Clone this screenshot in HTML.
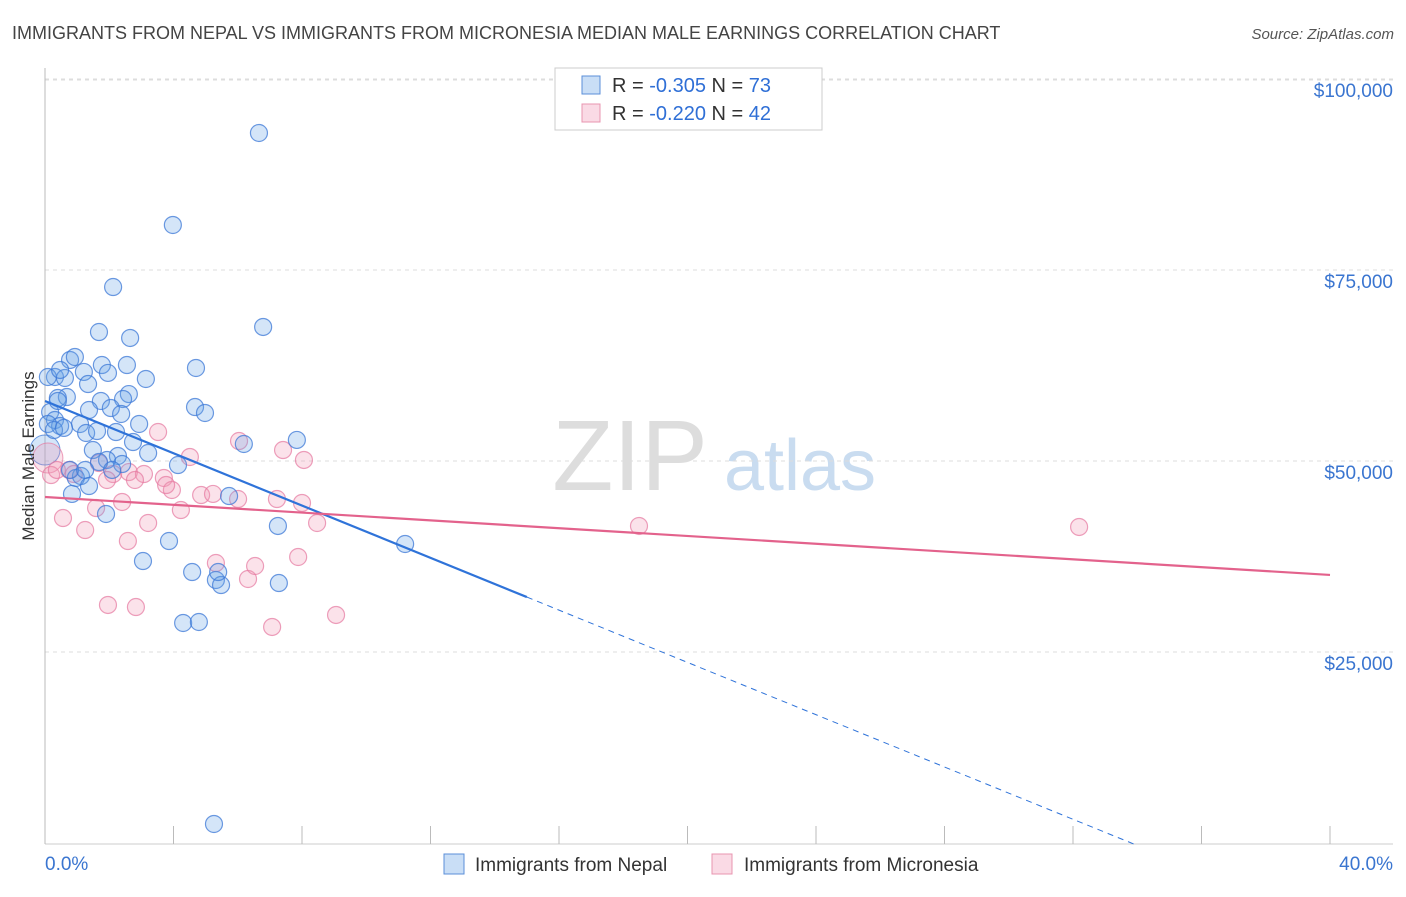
<!DOCTYPE html>
<html><head><meta charset="utf-8"><style>
body{margin:0;background:#fff;font-family:"Liberation Sans",sans-serif;}
svg text{font-family:"Liberation Sans",sans-serif;}
</style></head><body>
<svg id="chart" width="1406" height="892" viewBox="0 0 1406 892" xmlns="http://www.w3.org/2000/svg">
<text x="12" y="39" font-size="18" fill="#444">IMMIGRANTS FROM NEPAL VS IMMIGRANTS FROM MICRONESIA MEDIAN MALE EARNINGS CORRELATION CHART</text>
<text x="1394" y="39" font-size="15" fill="#555" text-anchor="end" font-style="italic">Source: ZipAtlas.com</text>
<g>
<text x="630" y="490" font-size="100" font-family="Liberation Serif,serif" fill="#ddd" text-anchor="middle">ZIP</text>
<text x="800" y="490" font-size="72" fill="#c9dcf0" text-anchor="middle">atlas</text>
</g>
<g id="grid"></g>
<g id="axes"></g>
<g id="marks"></g>
<text transform="translate(34,456) rotate(-90)" font-size="17" fill="#333" text-anchor="middle">Median Male Earnings</text>
<g>
<rect x="555" y="68" width="267" height="62" fill="#fff" stroke="#ccc"/>
<rect x="582" y="76" width="18" height="18" fill="rgba(100,160,230,0.35)" stroke="#5b8fd8"/>
<text x="612" y="92" font-size="20" fill="#333">R = <tspan fill="#2f6fd6">-0.305</tspan>   N = <tspan fill="#2f6fd6">73</tspan></text>
<rect x="582" y="104" width="18" height="18" fill="rgba(240,150,180,0.35)" stroke="#e895b0"/>
<text x="612" y="120" font-size="20" fill="#333">R = <tspan fill="#2f6fd6">-0.220</tspan>   N = <tspan fill="#2f6fd6">42</tspan></text>
</g>
<g>
<rect x="444" y="854" width="20" height="20" fill="rgba(100,160,230,0.35)" stroke="#5b8fd8"/>
<text x="475" y="871" font-size="19" fill="#333">Immigrants from Nepal</text>
<rect x="712" y="854" width="20" height="20" fill="rgba(240,150,180,0.35)" stroke="#e895b0"/>
<text x="744" y="871" font-size="19" fill="#333">Immigrants from Micronesia</text>
</g>
</svg>
<script>
const nepalX=[6.66,3.98,2.12,6.79,1.68,2.65,0.78,0.93,1.77,2.55,4.70,1.21,0.31,0.09,0.62,3.14,1.34,1.96,2.61,0.68,0.40,1.74,2.43,4.67,1.37,2.05,2.37,4.98,0.16,0.31,1.09,2.93,0.47,0.09,1.28,1.62,2.21,2.74,6.19,7.84,0.28,1.49,3.21,2.27,1.93,4.14,1.68,2.40,1.12,0.96,1.37,0.84,5.73,1.90,7.25,11.21,3.86,3.05,4.58,5.32,5.48,5.39,7.28,4.30,4.79,5.26,0.47,0.40,0.59,0.78,1.25,2.09];
const nepalY=[93070,81030,72910,67680,67020,66240,63360,63750,62700,62700,62310,61790,61130,61130,61000,60870,60210,61660,58900,58510,58380,57990,58250,57200,56810,57070,56290,56420,56550,55500,54980,54980,54720,54980,53800,54060,53930,52620,52360,52890,54190,51570,51180,50790,50270,49610,50000,49740,48170,47910,46860,45820,45550,43200,41630,39270,39660,37040,35600,34560,33900,35600,34160,28930,29060,2620,62050,57990,54460,48960,48960,48960];
const micronesiaX=[0.19,0.37,0.75,0.90,1.68,2.12,1.93,2.61,3.08,3.52,4.51,3.70,3.95,3.77,4.23,4.86,5.23,6.04,7.41,8.06,7.22,8.00,8.47,6.01,0.56,1.25,1.59,2.40,3.21,2.58,1.96,2.83,5.32,6.32,6.54,7.07,7.88,9.06,18.49,32.19,2.80];
const micronesiaY=[48300,48960,48960,48430,49870,48430,47650,48690,48430,53930,50660,47910,46340,46990,43720,45680,45820,52750,51570,50270,45160,44640,42020,45160,42670,41100,43980,44770,42020,39660,31290,31020,36780,34690,36390,28410,37570,29980,41630,41500,47650];
const bigPoints=[[0,51570,'n'],[0.09,50530,'m']];
const yTicks=[25000,50000,75000,100000];
const yTickLabels=["$25,000","$50,000","$75,000","$100,000"];
const nepalTrend=[57990,-1711,15];   // intercept, slope per %, solid end
const micTrend=[45420,-255];
const NS='http://www.w3.org/2000/svg';
const sx=v=>45+v*32.125, sy=v=>844-v/130.9;
function mk(p,t,a){const e=document.createElementNS(NS,t);for(const k in a)e.setAttribute(k,a[k]);p.appendChild(e);return e;}
const grid=document.getElementById('grid'),axes=document.getElementById('axes'),marks=document.getElementById('marks');
yTicks.forEach((t,i)=>{
 const l=mk(grid,'line',{x1:45,x2:1393,y1:sy(t)-1,y2:sy(t)-1,stroke:'#ddd','stroke-dasharray':'4,4'});
 
 
 const tx=mk(axes,'text',{x:1393,y:sy(t)+17,'font-size':19,fill:'#3a75d0','text-anchor':'end'});
 tx.textContent=yTickLabels[i];
 
 
});
mk(grid,'line',{x1:45,x2:1393,y1:80,y2:80,stroke:'#ddd','stroke-dasharray':'4,4'});
mk(axes,'line',{x1:45,x2:45,y1:68,y2:844,stroke:'#bbb'});
mk(axes,'line',{x1:45,x2:1393,y1:844,y2:844,stroke:'#ccc'});
for(let i=0;i<=10;i++){const x=sx(i*4);const t=mk(axes,'line',{x1:x,x2:x,y1:826,y2:844,stroke:'#bbb'});
 
 }
const x0=mk(axes,'text',{x:45,y:870,'font-size':19,fill:'#3a75d0'});x0.textContent='0.0%';


const x1=mk(axes,'text',{x:1393,y:870,'font-size':19,fill:'#3a75d0','text-anchor':'end'});x1.textContent='40.0%';


const BF='rgba(100,160,230,0.28)',BS='rgba(60,120,215,0.75)',PF='rgba(240,150,180,0.28)',PS='rgba(230,120,160,0.7)';
bigPoints.forEach(b=>{const c=mk(marks,'circle',{cx:sx(b[0]),cy:sy(b[1]),r:15,fill:b[2]=='n'?BF:PF,stroke:b[2]=='n'?BS:PS});
 
 });
micronesiaX.forEach((x,i)=>{const c=mk(marks,'circle',{cx:sx(x),cy:sy(micronesiaY[i]),r:8.5,fill:PF,stroke:PS,'stroke-width':1.2});
 
 });
nepalX.forEach((x,i)=>{const c=mk(marks,'circle',{cx:sx(x),cy:sy(nepalY[i]),r:8.5,fill:BF,stroke:BS,'stroke-width':1.2});
 
 });
const ny=x=>nepalTrend[0]+nepalTrend[1]*x;
const zx=-nepalTrend[0]/nepalTrend[1];
const l1=mk(marks,'line',{x1:sx(0),y1:sy(ny(0)),x2:sx(nepalTrend[2]),y2:sy(ny(nepalTrend[2])),stroke:'#2f73d9','stroke-width':2.2});


const l2=mk(marks,'line',{x1:sx(nepalTrend[2]),y1:sy(ny(nepalTrend[2])),x2:sx(zx),y2:sy(0),stroke:'#2f73d9','stroke-width':1,'stroke-dasharray':'6,5'});


const l3=mk(marks,'line',{x1:sx(0),y1:sy(micTrend[0]),x2:sx(40),y2:sy(micTrend[0]+micTrend[1]*40),stroke:'#e3628c','stroke-width':2.2});


</script>
</body></html>
